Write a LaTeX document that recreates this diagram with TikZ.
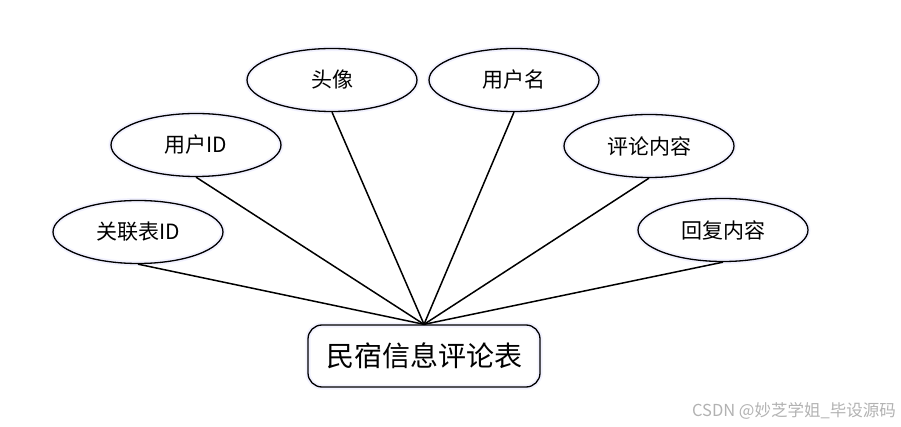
\documentclass[tikz,border=0pt]{standalone}
\usepackage{fontspec}
\setmainfont{Noto Sans CJK SC}
\usetikzlibrary{shapes.geometric}
\begin{document}
\begin{tikzpicture}[x=1pt,y=-1pt,
  attr/.style={ellipse, draw=black, line width=1.3pt, minimum width=170pt, minimum height=63pt, inner sep=0pt, font=\fontsize{21}{21}\selectfont,
    preaction={draw=blue!5, line width=5pt}},
  entity/.style={draw=black, line width=1.3pt, rounded corners=14pt, minimum width=232pt, minimum height=62pt, inner sep=0pt, font=\fontsize{28}{28}\selectfont,
    preaction={draw=blue!5, line width=5pt}},
  link/.style={line width=1.5pt}]
\useasboundingbox (0,0) rectangle (901,427);
\node[entity] (main) at (424,356) {民宿信息评论表};
\node[attr] (a1) at (138,232) {关联表ID};
\node[attr] (a2) at (196,145) {用户ID};
\node[attr] (a3) at (332,80) {头像};
\node[attr] (a4) at (514,80) {用户名};
\node[attr] (a5) at (649,146) {评论内容};
\node[attr] (a6) at (723,230) {回复内容};
\foreach \n in {a1,a2,a3,a4,a5,a6}{
  \draw[link] (\n.south) -- (main.north);
}
\node[text=black!30, font=\fontsize{16.5}{16.5}\selectfont, anchor=east, inner sep=0pt] (wm) at (896,411) {CSDN @妙芝学姐\_毕设源码};
\end{tikzpicture}
\end{document}
